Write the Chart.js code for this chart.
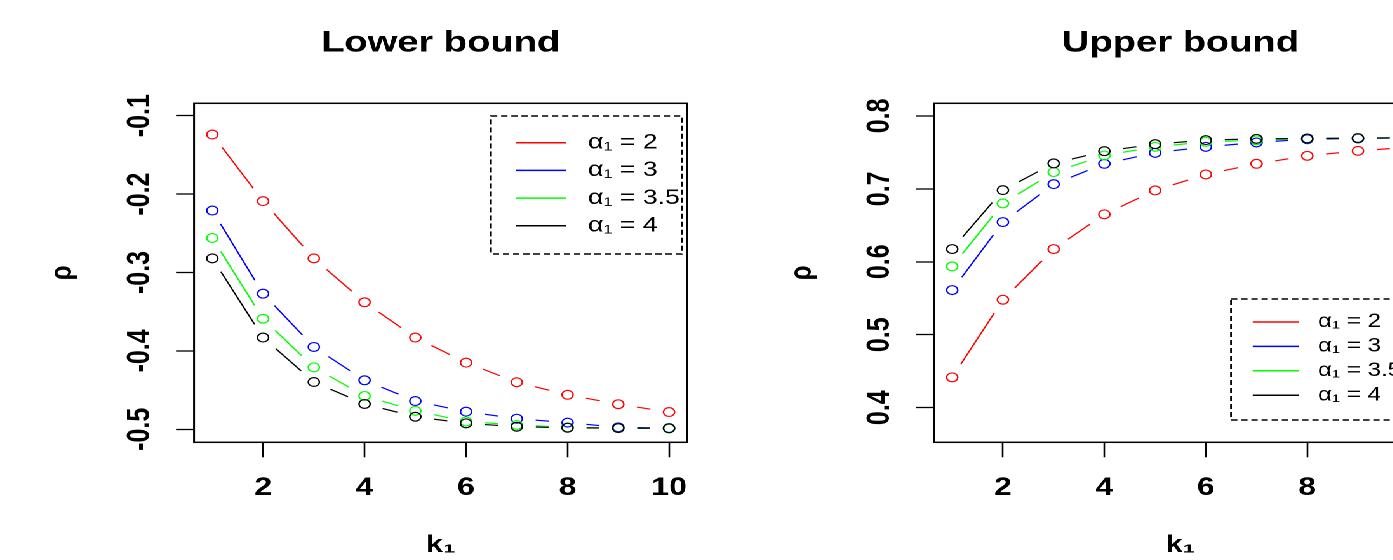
<!DOCTYPE html>
<html>
<head>
<meta charset="utf-8">
<script src="https://cdn.jsdelivr.net/npm/chart.js@4.4.1/dist/chart.umd.min.js"></script>
<style>
  html, body { margin: 0; padding: 0; background: #fff; overflow: hidden; width: 1393px; height: 560px; }
  /* the reference is stretched sideways, so the whole drawing is too */
  #wrap { position: absolute; left: 0; top: 0; width: 1160px; height: 560px; transform: scaleX(1.27); transform-origin: 0 0; }
  .panel { position: absolute; top: 0; width: 580px; height: 560px; }
</style>
</head>
<body>
<div id="wrap">
  <div class="panel" style="left:0"><canvas id="lowerChart"></canvas></div>
  <div class="panel" style="left:580px"><canvas id="upperChart"></canvas></div>
</div>
<script>
// données
const k1 = [1, 2, 3, 4, 5, 6, 7, 8, 9, 10];
const alphas = [2, 3, 3.5, 4];

const lowerA2  = [-0.124, -0.209, -0.282, -0.338, -0.383, -0.415, -0.440, -0.456, -0.468, -0.478];
const lowerA3  = [-0.221, -0.327, -0.395, -0.4375, -0.464, -0.4775, -0.4865, -0.4915, -0.4975, -0.4985];
const lowerA35 = [-0.256, -0.359, -0.421, -0.4575, -0.4765, -0.490, -0.4945, -0.4975, -0.4985, -0.499];
const lowerA4  = [-0.282, -0.383, -0.4397, -0.4677, -0.484, -0.4924, -0.4967, -0.498, -0.4985, -0.4987];

const upperA2  = [0.4416, 0.548, 0.6174, 0.665, 0.6978, 0.7197, 0.7343, 0.7452, 0.752, 0.757];
const upperA3  = [0.5612, 0.6544, 0.7064, 0.7343, 0.7493, 0.7575, 0.7635, 0.768, 0.769, 0.77];
const upperA35 = [0.5937, 0.68, 0.7229, 0.7457, 0.7575, 0.7644, 0.7665, 0.769, 0.7695, 0.77];
const upperA4  = [0.6174, 0.6982, 0.7348, 0.7516, 0.7612, 0.7667, 0.7685, 0.769, 0.7695, 0.77];

const xTicks = [2, 4, 6, 8, 10];
const lowerTicks = [-0.5, -0.4, -0.3, -0.2, -0.1];
const upperTicks = [0.4, 0.5, 0.6, 0.7, 0.8];

const seriesColors = ['#ff0000', '#0000ff', '#00ff00', '#000000'];
const FONT = '"Liberation Sans", Arial, sans-serif';

// boîte autour de la zone de tracé
const boxPlugin = {
    id: 'rBox',
    afterDatasetsDraw(chart) {
        const a = chart.chartArea;
        const ctx = chart.ctx;
        ctx.save();
        ctx.strokeStyle = '#000';
        ctx.lineWidth = 1.5;
        ctx.strokeRect(a.left, a.top, a.right - a.left, a.bottom - a.top);
        ctx.restore();
    }
};

// type="b" de R : la ligne s'arrête avant chaque point
const gapPlugin = {
    id: 'rGap',
    beforeDatasetDraw(chart, args) {
        const ds = chart.data.datasets[args.index];
        if (!ds.gapLine) return;
        const ctx = chart.ctx;
        ctx.save();
        ctx.beginPath();
        ctx.rect(0, 0, chart.width, chart.height);
        args.meta.data.forEach(pt => {
            ctx.moveTo(pt.x + 15, pt.y);
            ctx.arc(pt.x, pt.y, 15, 0, Math.PI * 2, true);
        });
        ctx.clip('evenodd');
    },
    afterDatasetDraw(chart, args) {
        const ds = chart.data.datasets[args.index];
        if (!ds.gapLine) return;
        chart.ctx.restore();
    }
};

function makeLegend(g) {
    return {
        id: 'rLegend',
        afterDraw(chart) {
            const ctx = chart.ctx;
            ctx.save();
            ctx.strokeStyle = '#000';
            ctx.lineWidth = 1.4;
            ctx.setLineDash([5, 3]);
            ctx.strokeRect(g.x, g.y, g.w, g.h);
            ctx.setLineDash([]);
            ctx.font = g.fontSize + 'px ' + FONT;
            ctx.textBaseline = 'middle';
            alphas.forEach((a, i) => {
                const yy = g.rowY + i * g.rowGap;
                ctx.strokeStyle = seriesColors[i];
                ctx.lineWidth = 1.5;
                ctx.beginPath();
                ctx.moveTo(g.lineX0, yy);
                ctx.lineTo(g.lineX1, yy);
                ctx.stroke();
                ctx.fillStyle = '#000';
                ctx.fillText('α₁ = ' + a, g.textX, yy);
            });
            ctx.restore();
        }
    };
}

function buildDatasets(seriesValues) {
    const sets = [];
    const n = seriesValues.length;
    seriesValues.forEach((vals, i) => {
        const pts = k1.map((k, j) => ({ x: k, y: vals[j] }));
        sets.push({
            data: pts, gapLine: true, borderColor: seriesColors[i], borderWidth: 1.2,
            pointRadius: 0, fill: false, tension: 0, order: 2 * (n - 1 - i) + 1
        });
        sets.push({
            data: pts, showLine: false, borderColor: seriesColors[i],
            pointBorderColor: seriesColors[i], pointBackgroundColor: 'rgba(0,0,0,0)',
            pointRadius: 4.4, pointBorderWidth: 1.2, order: 2 * (n - 1 - i)
        });
    });
    return sets;
}

function makeChart(canvasId, cfg) {
    const tickFont = { family: FONT, size: 25, weight: 'bold' };
    return new Chart(document.getElementById(canvasId), {
        type: 'line',
        data: { datasets: buildDatasets(cfg.series) },
        options: {
            responsive: true,
            maintainAspectRatio: false,
            animation: false,
            devicePixelRatio: 2,
            events: [],
            layout: { padding: { left: 0, top: 0, bottom: 0, right: cfg.right } },
            plugins: {
                legend: { display: false },
                tooltip: { enabled: false },
                title: {
                    display: true, text: cfg.title, fullSize: false, color: '#000',
                    font: { family: FONT, size: 30, weight: 'bold' },
                    padding: { top: 25, bottom: 42.3 }
                }
            },
            scales: {
                x: {
                    type: 'linear', min: 0.64, max: 10.36,
                    afterBuildTicks: s => { s.ticks = xTicks.map(v => ({ value: v })); },
                    afterFit: s => { s.height = 117.7; },
                    grid: { drawOnChartArea: false, tickLength: 15, color: '#000', tickWidth: 1.3 },
                    border: { display: false },
                    ticks: { font: tickFont, color: '#000', padding: 15.7, maxRotation: 0, autoSkip: false },
                    title: {
                        display: true, text: 'k₁', color: '#000',
                        font: { family: FONT, size: 24, weight: 'bold' },
                        padding: { top: 0, bottom: 0 }
                    }
                },
                y: {
                    type: 'linear', min: cfg.yMin, max: cfg.yMax,
                    afterBuildTicks: s => { s.ticks = cfg.yTicks.map(v => ({ value: v })); },
                    afterFit: s => { s.width = cfg.left; },
                    grid: { drawOnChartArea: false, tickLength: 14.2, color: '#000', tickWidth: 1.3 },
                    border: { display: false },
                    ticks: {
                        font: tickFont, color: '#000', padding: cfg.yPad, minRotation: 90, maxRotation: 90,
                        crossAlign: 'center', autoSkip: false, callback: v => v.toFixed(1)
                    },
                    title: {
                        display: true, text: 'ρ', color: '#000',
                        font: { family: FONT, size: 24, weight: 'bold' },
                        padding: { top: cfg.left - 103.5 - 14.4, bottom: 0 }
                    }
                }
            }
        },
        plugins: [gapPlugin, boxPlugin, makeLegend(cfg.legend)]
    });
}

makeChart('lowerChart', {
    title: 'Lower bound',
    series: [lowerA2, lowerA3, lowerA35, lowerA4],
    yMin: -0.5166, yMax: -0.0842, yTicks: lowerTicks,
    left: 152.8, right: 38.8, yPad: 6.7,
    legend: { x: 386.6, y: 116, w: 150.2, h: 138, rowY: 142.7, rowGap: 27.7,
              lineX0: 406.3, lineX1: 445.7, textX: 463, fontSize: 21 }
});

makeChart('upperChart', {
    title: 'Upper bound',
    series: [upperA2, upperA3, upperA35, upperA4],
    yMin: 0.3526, yMax: 0.8172, yTicks: upperTicks,
    left: 155.4, right: 36.4, yPad: 10.8,
    legend: { x: 389.3, y: 299, w: 150, h: 121, rowY: 322, rowGap: 24.4,
              lineX0: 406.4, lineX1: 442.8, textX: 457.8, fontSize: 19 }
});
</script>
</body>
</html>
